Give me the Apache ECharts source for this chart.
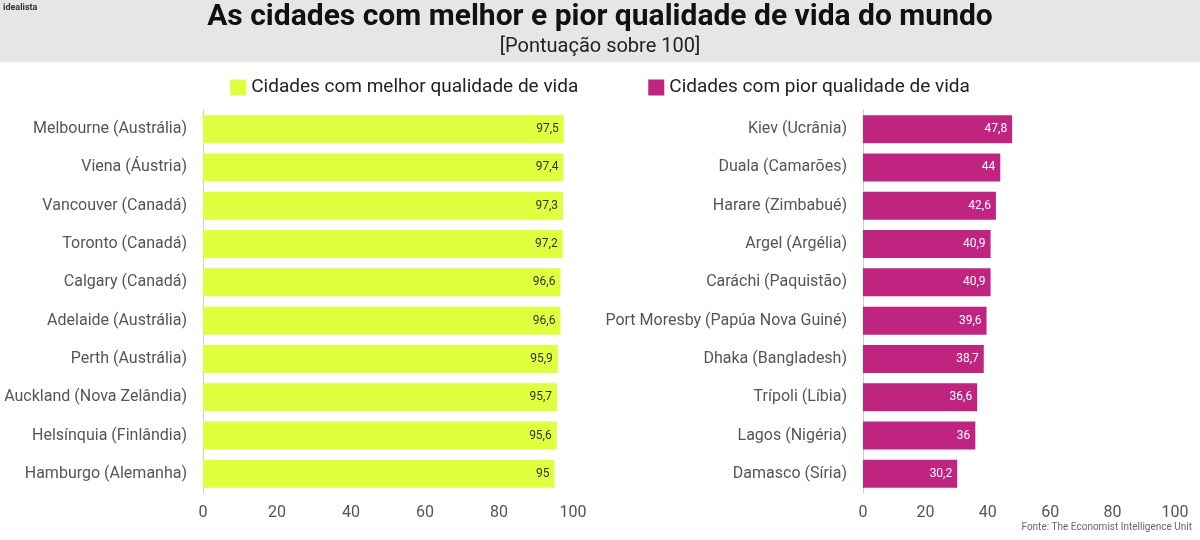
<!DOCTYPE html>
<html lang="pt">
<head>
<meta charset="UTF-8">
<title>Qualidade de vida</title>
<script src="https://cdn.jsdelivr.net/npm/echarts@6/dist/echarts.min.js"></script>
<style>
  body { margin: 0; background: #fff; }
  #main { width: 1200px; height: 540px; }
</style>
</head>
<body>
<div id="main"></div>
<script>
const bestCities = ['Melbourne (Austrália)', 'Viena (Áustria)', 'Vancouver (Canadá)', 'Toronto (Canadá)', 'Calgary (Canadá)',
  'Adelaide (Austrália)', 'Perth (Austrália)', 'Auckland (Nova Zelândia)', 'Helsínquia (Finlândia)', 'Hamburgo (Alemanha)']
const bestScores = [97.5, 97.4, 97.3, 97.2, 96.6, 96.6, 95.9, 95.7, 95.6, 95]
const worstCities = ['Kiev (Ucrânia)', 'Duala (Camarões)', 'Harare (Zimbabué)', 'Argel (Argélia)', 'Caráchi (Paquistão)',
  'Port Moresby (Papúa Nova Guiné)', 'Dhaka (Bangladesh)', 'Trípoli (Líbia)', 'Lagos (Nigéria)', 'Damasco (Síria)']
const worstScores = [47.8, 44, 42.6, 40.9, 40.9, 39.6, 38.7, 36.6, 36, 30.2]
const xTicks = [0, 20, 40, 60, 80, 100]

const font = 'Roboto, "Noto Sans", sans-serif'
const fmt = v => String(v).replace('.', ',')

let chart = echarts.init(document.getElementById('main'))

function xAxis(idx) {
  return {
    gridIndex: idx, type: 'value', min: 0, max: 100, interval: 20,
    axisLine: { show: false }, axisTick: { show: false }, splitLine: { show: false },
    axisLabel: { color: '#555', fontSize: 16, fontFamily: font, margin: 12,
      formatter: v => xTicks.includes(v) ? v : '' }
  }
}
function yAxis(idx, data) {
  return {
    gridIndex: idx, type: 'category', data: data, inverse: true,
    axisLine: { show: true, lineStyle: { color: '#ccc' } }, axisTick: { show: false },
    axisLabel: { color: '#555', fontSize: 16, fontFamily: font, margin: 16 }
  }
}

chart.setOption({
  animation: false,
  graphic: [
    { type: 'rect', left: 0, top: 0, shape: { width: 1200, height: 62 }, style: { fill: '#e6e6e6' } },
    { type: 'text', left: 3, top: 3, style: { text: 'idealista', fontSize: 9, fontWeight: 'bold', fill: '#333', fontFamily: font } },
    { type: 'text', left: 'center', top: 2, style: { text: 'As cidades com melhor e pior qualidade de vida do mundo',
      fontSize: 30, fontWeight: 'bold', fill: '#111', fontFamily: font } },
    { type: 'text', left: 'center', top: 37, style: { text: '[Pontuação sobre 100]', fontSize: 20, fill: '#222', fontFamily: font } },
    { type: 'text', right: 8, top: 522, style: { text: 'Fonte: The Economist Intelligence Unit', fontSize: 10, fill: '#666', fontFamily: font } }
  ],
  legend: {
    top: 73, left: 'center', itemGap: 70, itemWidth: 16, itemHeight: 16, icon: 'rect',
    textStyle: { fontSize: 19, color: '#222', fontFamily: font },
    data: ['Cidades com melhor qualidade de vida', 'Cidades com pior qualidade de vida']
  },
  grid: [
    { left: 203, width: 370, top: 110, height: 383 },
    { left: 863, width: 312, top: 110, height: 383 }
  ],
  xAxis: [xAxis(0), xAxis(1)],
  yAxis: [yAxis(0, bestCities), yAxis(1, worstCities)],
  series: [
    {
      name: 'Cidades com melhor qualidade de vida', type: 'bar', xAxisIndex: 0, yAxisIndex: 0,
      data: bestScores, barWidth: 28, itemStyle: { color: '#dfff3f' },
      label: { show: true, position: 'insideRight', color: '#333', fontSize: 12, fontFamily: font, formatter: p => fmt(p.value) }
    },
    {
      name: 'Cidades com pior qualidade de vida', type: 'bar', xAxisIndex: 1, yAxisIndex: 1,
      data: worstScores, barWidth: 28, itemStyle: { color: '#bf2481' },
      label: { show: true, position: 'insideRight', color: '#fff', fontSize: 12, fontFamily: font, formatter: p => fmt(p.value) }
    }
  ]
})
</script>
</body>
</html>
